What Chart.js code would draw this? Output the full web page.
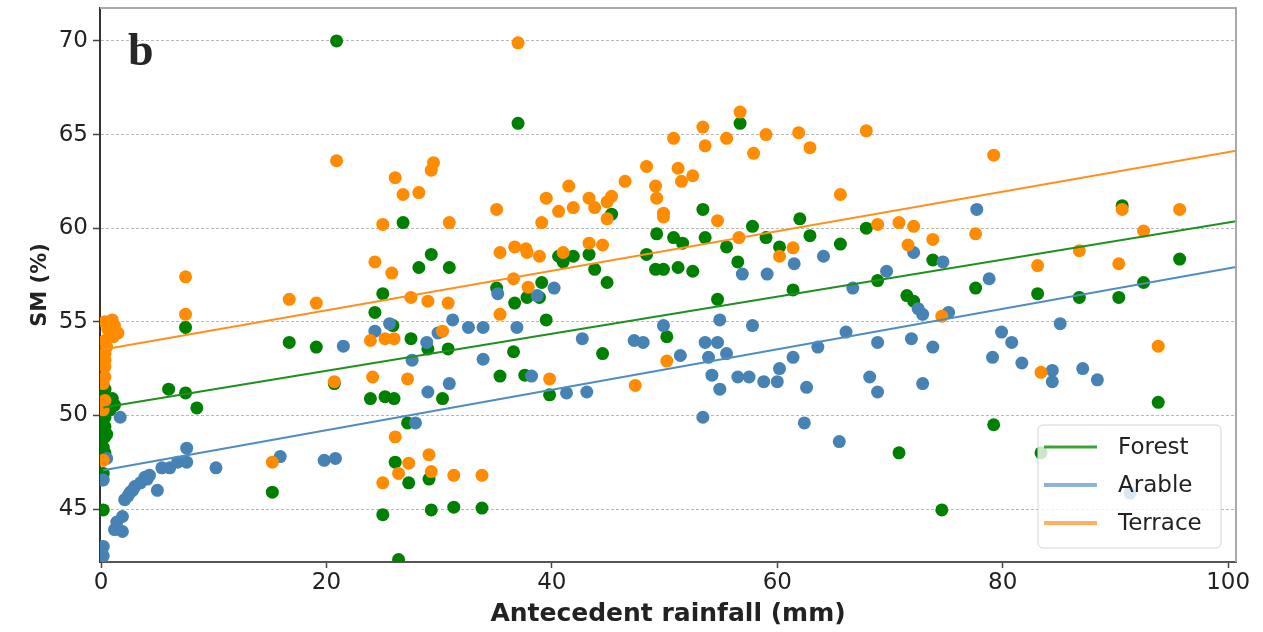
<!DOCTYPE html>
<html lang="en">
<head>
    <meta charset="UTF-8">
    <title>SM vs antecedent rainfall</title>
    <style>
        body {
            margin: 0;
            background: #fff;
        }

        #wrap {
            width: 1263px;
            height: 632px;
            position: relative;
        }
    </style>
</head>
<body>
    <div id="wrap">
        <canvas id="smChart"></canvas>
    </div>

    <script src="https://cdn.jsdelivr.net/npm/chart.js"></script>
    <script>
        // axis ticks
        const xTicks = [0, 20, 40, 60, 80, 100];
        const yTicks = [45, 50, 55, 60, 65, 70];

        const seriesNames = ['Forest', 'Arable', 'Terrace'];

        // Forest observations: rainfall (mm) / soil moisture (%)
        const forestX = [20.9, 37.0, 56.7, 7.5, 25.0, 24.3, 16.7, 19.1, 20.7, 23.9, 25.2, 26.0, 6.0, 7.5, 8.5, 15.2, 25.0,
            26.8, 45.3, 49.3, 50.8, 48.4, 49.2, 49.9, 51.2, 43.3, 43.8, 44.9, 40.6, 41.9, 41.0, 29.3, 28.2, 30.9, 39.1,
            35.1, 37.8, 38.9, 36.7, 39.5, 25.9, 27.5, 29.0, 30.8, 36.6, 44.5, 50.2, 30.3, 35.4, 37.6, 39.8, 27.2, 26.1,
            27.3, 29.1, 29.3, 31.3, 33.8, 26.4, 53.4, 57.8, 62.0, 67.9, 51.6, 53.6, 55.5, 59.0, 60.2, 62.9, 65.6, 52.5,
            56.5, 73.8, 68.9, 61.4, 54.7, 71.5, 72.1, 70.8, 74.6, 77.6, 83.1, 86.8, 90.3, 92.5, 90.6, 95.7, 93.8, 79.2,
            83.4, 0.35, 1.0, 0.2, 1.2, 0.8, 0.35, 0.35, 0.35, 0.2, 0.35, 0.2, 0.2, 0.1, 0.1, 0.5];
        const forestY = [70.0, 65.6, 65.6, 54.7, 56.5, 55.5, 53.9, 53.65, 51.7, 50.9, 51.0, 50.9, 51.4, 51.2, 50.4, 45.9, 44.7,
            60.3, 60.75, 59.7, 59.5, 58.6, 57.8, 57.8, 57.9, 58.6, 57.8, 57.1, 58.5, 58.5, 58.2, 58.6, 57.9, 57.9, 57.1,
            56.8, 56.3, 56.3, 56.0, 55.1, 54.8, 54.1, 53.55, 53.55, 53.4, 53.3, 54.2, 50.9, 52.1, 52.15, 51.1, 49.6, 47.5,
            46.4, 46.6, 44.95, 45.1, 45.05, 42.3, 61.0, 60.1, 60.5, 60.0, 59.2, 59.5, 59.0, 59.5, 59.0, 59.6, 59.15, 57.7,
            58.2, 58.3, 57.2, 56.7, 56.2, 56.4, 56.1, 48.0, 44.95, 56.8, 56.5, 56.3, 56.3, 57.1, 61.2, 58.35, 50.7, 49.5,
            48.0, 51.4, 50.9, 50.7, 50.55, 50.3, 49.9, 49.4, 48.85, 48.3, 48.0, 46.9, 44.95, 51.2, 50.0, 49.0];

        // Arable observations
        const arableX = [24.3, 25.6, 21.5, 1.7, 7.6, 7.6, 5.4, 6.1, 6.8, 10.2, 15.9, 19.8, 20.8,
            2.1, 2.6, 3.0, 3.5, 3.9, 4.3, 5.0, 1.9, 1.4, 1.2, 1.9, 0.2, 0.2, 0.5, 0.2, 2.8, 2.4, 4.1,
            40.2, 35.2, 38.7, 31.2, 32.6, 33.9, 36.9, 29.9, 28.9, 27.6, 33.9, 42.7, 47.3, 48.1, 49.9, 51.4, 38.2, 41.3,
            43.1, 29.0, 30.9, 27.9, 56.9, 59.1, 69.7, 72.1, 74.7, 64.1, 61.5, 66.7, 72.5, 72.9, 75.2, 54.9, 57.8, 53.6,
            54.7, 53.9, 55.5, 54.2, 54.9, 56.5, 57.5, 58.8, 60.0, 60.2, 61.4, 62.6, 63.6, 66.1, 68.9, 68.2, 68.9, 71.9,
            73.8, 72.9, 53.4, 62.4, 65.5, 77.7, 78.8, 85.1, 79.9, 80.8, 79.1, 81.7, 84.4, 84.4, 87.1, 88.4, 91.3];
        const arableY = [54.5, 54.9, 53.7, 49.9, 48.25, 47.5, 47.2, 47.2, 47.5, 47.2, 47.8, 47.6, 47.7,
            45.5, 45.9, 46.2, 46.4, 46.7, 46.8, 46.0, 44.6, 44.3, 43.9, 43.8, 43.0, 42.5, 47.7, 46.55, 46.0, 45.7, 46.6,
            56.8, 56.5, 56.4, 55.1, 54.7, 54.7, 54.7, 54.4, 53.9, 52.95, 53.0, 54.1, 54.0, 53.9, 54.8, 53.2, 52.1, 51.2,
            51.25, 51.25, 51.7, 49.6, 57.55, 57.55, 57.7, 58.7, 58.2, 58.5, 58.1, 56.8, 55.7, 55.4, 55.5, 55.1, 54.8, 53.9,
            53.9, 53.1, 53.3, 52.15, 51.4, 52.05, 52.05, 51.8, 51.8, 52.5, 53.1, 51.5, 53.65, 54.45, 53.9, 52.05, 51.25, 54.1,
            53.65, 51.7, 49.9, 49.6, 48.6, 61.0, 57.3, 54.9, 54.45, 53.9, 53.1, 52.8, 52.4, 51.8, 52.5, 51.9, 45.85];

        // Terrace observations
        const terraceX = [37.0, 20.9, 25.0, 24.3, 7.5, 7.5, 16.7, 19.1, 23.9, 25.2, 26.0, 20.7, 24.1, 15.2, 25.0,
            50.8, 51.2, 51.5, 52.5, 26.1, 29.5, 29.3, 26.8, 28.2, 35.1, 30.9, 39.1, 39.5, 40.6, 41.5, 41.9, 43.3, 43.8,
            44.9, 45.3, 44.9, 46.5, 48.4, 49.2, 49.3, 49.9, 49.9, 43.3, 44.5, 36.7, 37.7, 37.8, 35.4, 38.9, 41.0, 25.8,
            36.6, 37.9, 27.5, 29.0, 30.8, 35.4, 30.3, 50.2, 27.2, 39.8, 47.4, 26.1, 27.3, 29.1, 26.4, 29.3, 31.3, 33.8,
            56.7, 53.4, 53.6, 55.5, 59.0, 57.9, 61.9, 62.9, 67.9, 65.6, 54.7, 68.9, 70.8, 72.1, 71.6, 73.8, 56.6, 60.2,
            61.4, 74.6, 79.2, 77.6, 90.6, 95.7, 92.5, 86.8, 83.1, 90.3, 93.8, 83.4,
            1.0, 0.35, 1.2, 1.5, 0.6, 1.1, 0.35, 0.5, 0.35, 0.35, 0.35, 0.35, 0.2, 0.35, 0.2, 0.2];
        const terraceY = [69.9, 63.6, 60.2, 58.2, 57.4, 55.4, 56.2, 56.0, 54.0, 54.1, 54.1, 51.8, 52.05, 47.5, 46.4,
            64.8, 63.2, 62.5, 62.8, 62.7, 63.5, 63.1, 61.8, 61.9, 61.0, 60.3, 60.3, 61.6, 60.9, 62.25, 61.1, 61.6, 61.1,
            61.4, 61.7, 60.5, 62.5, 63.3, 62.25, 61.6, 60.8, 60.6, 59.2, 59.1, 59.0, 58.9, 58.7, 58.7, 58.5, 58.7, 57.6,
            57.3, 56.85, 56.3, 56.1, 56.0, 55.4, 54.5, 52.9, 51.95, 51.95, 51.6, 48.85, 47.45, 47.9, 46.9, 47.0, 46.8, 46.8,
            66.2, 65.4, 64.4, 64.8, 65.0, 64.0, 65.1, 64.3, 65.2, 61.8, 60.4, 60.2, 60.3, 60.1, 59.1, 59.4, 59.5, 58.5,
            58.95, 55.3, 63.9, 59.7, 61.0, 61.0, 59.85, 58.8, 58.0, 58.1, 53.7, 52.3,
            55.1, 55.0, 54.8, 54.4, 54.6, 54.2, 54.0, 53.65, 53.3, 52.95, 52.6, 52.05, 51.7, 50.8, 50.3, 47.6];

        // linear fits (intercept, slope) for Forest, Arable, Terrace
        const fitIntercept = [50.4, 47.05, 53.5];
        const fitSlope = [0.099, 0.108, 0.1056];
        const fitRange = [0.2, 100.7];

        const dotColors = ['#008000', '#4682b4', '#ff8c00'];
        const fitColors = ['#1f8f1f', '#4f8cc2', '#ff9020'];
        const legendColors = ['#3aa33a', '#8db4d8', '#ffb060'];

        const pairs = (xs, ys) => xs.map((x, i) => ({ x: x, y: ys[i] }));
        const pointSets = [pairs(forestX, forestY), pairs(arableX, arableY), pairs(terraceX, terraceY)];

        const datasets = [];
        // regression lines sit on top of the dots
        seriesNames.forEach((name, i) => {
            datasets.push({
                type: 'line',
                label: name + ' fit',
                data: fitRange.map(x => ({ x: x, y: fitIntercept[i] + fitSlope[i] * x })),
                borderColor: fitColors[i],
                borderWidth: 2,
                pointRadius: 0,
                fill: false,
                order: 1
            });
        });
        seriesNames.forEach((name, i) => {
            datasets.push({
                type: 'scatter',
                label: name,
                data: pointSets[i],
                backgroundColor: dotColors[i],
                borderWidth: 0,
                pointRadius: 6.5,
                pointHoverRadius: 6.5,
                order: 6 - i
            });
        });

        const font = 'DejaVu Sans, sans-serif';

        const decor = {
            id: 'decor',
            beforeDraw(chart) {
                const c = chart.ctx;
                c.save();
                c.fillStyle = '#fff';
                c.fillRect(0, 0, chart.width, chart.height);
                c.restore();
            },
            afterDraw(chart) {
                const c = chart.ctx;
                const a = chart.chartArea;
                c.save();

                // top and right edges of the frame
                c.strokeStyle = '#a8a8a8';
                c.lineWidth = 2;
                c.beginPath();
                c.moveTo(a.left, a.top);
                c.lineTo(a.right, a.top);
                c.lineTo(a.right, a.bottom);
                c.stroke();

                // panel letter
                c.fillStyle = '#262626';
                c.font = 'bold 46px "Liberation Serif", serif';
                c.textBaseline = 'alphabetic';
                c.fillText('b', a.left + 28, 65);

                // legend box, lower right
                const bx = 1038, by = 425, bw = 183, bh = 123;
                c.beginPath();
                c.roundRect(bx, by, bw, bh, 5);
                c.fillStyle = 'rgba(255,255,255,0.8)';
                c.fill();
                c.strokeStyle = '#d4d4d4';
                c.lineWidth = 1;
                c.stroke();

                c.font = '23px ' + font;
                c.textBaseline = 'middle';
                seriesNames.forEach((name, i) => {
                    const ly = 447 + i * 38;
                    c.strokeStyle = legendColors[i];
                    c.lineWidth = i === 0 ? 3 : 4;
                    c.beginPath();
                    c.moveTo(bx + 6, ly);
                    c.lineTo(bx + 59, ly);
                    c.stroke();
                    c.fillStyle = '#222';
                    c.fillText(name, bx + 80, ly + 1);
                });
                c.restore();
            }
        };

        new Chart(document.getElementById('smChart'), {
            type: 'scatter',
            data: { datasets: datasets },
            options: {
                responsive: true,
                maintainAspectRatio: false,
                animation: false,
                layout: { padding: { top: 8, right: 27, left: 0, bottom: 0 } },
                plugins: {
                    legend: { display: false },
                    tooltip: { enabled: false }
                },
                scales: {
                    x: {
                        type: 'linear',
                        min: -0.09,
                        max: 100.7,
                        afterBuildTicks: scale => { scale.ticks = xTicks.map(v => ({ value: v })); },
                        afterFit: scale => {
                            scale.height = 70;
                            scale.paddingLeft = 0;
                            scale.paddingRight = 0;
                        },
                        grid: {
                            drawOnChartArea: false,
                            tickLength: 6,
                            tickColor: '#444',
                            tickWidth: 1.5
                        },
                        border: { color: '#555', width: 2 },
                        ticks: {
                            color: '#222',
                            padding: 1,
                            font: { family: font, size: 23 },
                            callback: v => String(v)
                        },
                        title: {
                            display: true,
                            text: 'Antecedent rainfall (mm)',
                            color: '#222',
                            font: { family: font, size: 25, weight: 'bold' },
                            padding: { top: 0, bottom: 3 }
                        }
                    },
                    y: {
                        type: 'linear',
                        min: 42.17,
                        max: 71.76,
                        afterBuildTicks: scale => { scale.ticks = yTicks.map(v => ({ value: v })); },
                        afterFit: scale => {
                            scale.width = 100;
                            scale.paddingTop = 0;
                            scale.paddingBottom = 0;
                        },
                        grid: {
                            color: '#b8b8b8',
                            lineWidth: 1,
                            tickLength: 7,
                            tickColor: '#444',
                            tickWidth: 1.5
                        },
                        border: { color: '#333', width: 2, dash: [3, 2] },
                        ticks: {
                            color: '#222',
                            padding: 5,
                            font: { family: font, size: 23 },
                            callback: v => String(v)
                        },
                        title: {
                            display: true,
                            text: 'SM (%)',
                            color: '#222',
                            font: { family: font, size: 21, weight: 'bold' },
                            padding: { top: 28, bottom: 0 }
                        }
                    }
                }
            },
            plugins: [decor]
        });
    </script>
</body>
</html>
